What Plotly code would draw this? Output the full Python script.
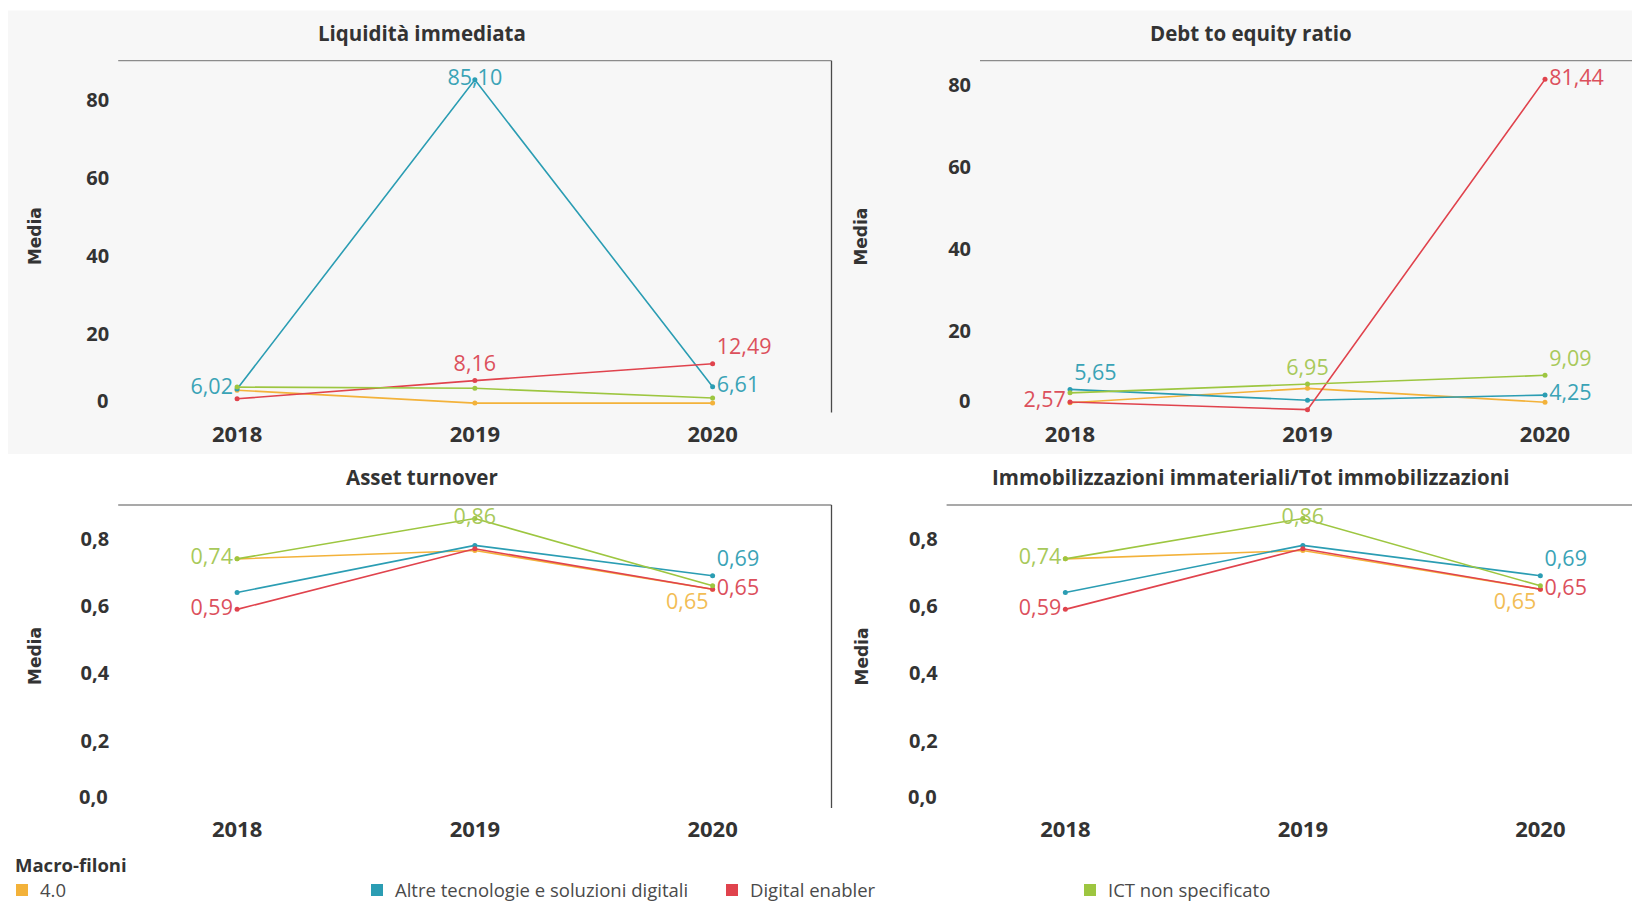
import plotly.graph_objects as go

# The page is shown with the browser's default 8px body margin, so the figure
# is sized and positioned to land on the 1640x905 window exactly.
OFF = 8
FW, FH = 1640 - OFF, 905 - OFF

# ---------------- data ----------------
years = ["2018", "2019", "2020"]
series_names = ["4.0", "Altre tecnologie e soluzioni digitali", "Digital enabler", "ICT non specificato"]
panel_titles = ["Liquidità immediata", "Debt to equity ratio", "Asset turnover",
                "Immobilizzazioni immateriali/Tot immobilizzazioni"]
legend_title = "Macro-filoni"

liq_40 = [5.7, 2.4, 2.4]
liq_altre = [6.02, 85.10, 6.61]
liq_digital = [3.5, 8.16, 12.49]
liq_ict = [6.5, 6.2, 3.7]

dte_40 = [2.4, 5.9, 2.5]
dte_altre = [5.65, 3.0, 4.25]
dte_digital = [2.57, 0.7, 81.44]
dte_ict = [4.8, 6.95, 9.09]

at_40 = [0.74, 0.765, 0.65]
at_altre = [0.64, 0.78, 0.69]
at_digital = [0.59, 0.77, 0.65]
at_ict = [0.74, 0.86, 0.66]

imm_40 = [0.74, 0.765, 0.65]
imm_altre = [0.64, 0.78, 0.69]
imm_digital = [0.59, 0.77, 0.65]
imm_ict = [0.74, 0.86, 0.66]

ticks_big = [20, 40, 60, 80]
ticks_small = [0.2, 0.4, 0.6, 0.8]

# ---------------- style ----------------
FONT = "Open Sans"
line_colors = ["#F3B23A", "#2B9DB3", "#E0434D", "#9DC640"]
text_colors = ["#F2BD55", "#3AA3B6", "#DC505C", "#A8C95A"]
DARK = "#333333"
legend_text_x = [40, 395, 750, 1108]   # left edge of each legend label (px)


def fx(t):
    return (t - OFF) / FW


def fy(t):
    return 1 - (t - OFF) / FH


panels = [
    dict(data=[liq_40, liq_altre, liq_digital, liq_ict], big=True,
         xpx=(118.2, 831.5), ypx=(60.7, 412.5), yr=(0, 90), xr=(-0.5, 2.5), mpx=34.5, vline=True,
         labels={1: {0: "middle left", 1: "middle center", 2: "middle right"},
                 2: {1: "top center", 2: "top right"}}),
    dict(data=[dte_40, dte_altre, dte_digital, dte_ict], big=True,
         xpx=(980, 1640), ypx=(60.7, 412.5), yr=(0, 86),
         xr=(-(1070 - 980) / 237.5, (1640 - 1070) / 237.5), mpx=861, vline=False,
         labels={1: {0: "top right", 2: "middle right"},
                 2: {0: "middle left", 2: "middle right"},
                 3: {1: "top center", 2: "top right"}}),
    dict(data=[at_40, at_altre, at_digital, at_ict], big=False,
         xpx=(118.2, 831.5), ypx=(505, 808), yr=(0, 0.9), xr=(-0.5, 2.5), mpx=34.5, vline=True,
         labels={0: {2: "bottom left"}, 1: {2: "top right"},
                 2: {0: "middle left", 2: "middle right"},
                 3: {0: "middle left", 1: "middle center"}}),
    dict(data=[imm_40, imm_altre, imm_digital, imm_ict], big=False,
         xpx=(946.6, 1640), ypx=(505, 808), yr=(0, 0.9),
         xr=(-0.5, -0.5 + (1640 - 946.6) / 237.5), mpx=861, vline=False,
         labels={0: {2: "bottom left"}, 1: {2: "top right"},
                 2: {0: "middle left", 2: "middle right"},
                 3: {0: "middle left", 1: "middle center"}}),
]


def fmt(v):
    return f"{v:.2f}".replace(".", ",")


fig = go.Figure()
layout = dict(shapes=[], annotations=[])

# gray band behind the top row
layout["shapes"].append(dict(type="rect", xref="paper", yref="paper", x0=0, x1=1,
                             y0=fy(454), y1=fy(10.5), fillcolor="#F7F7F7",
                             line=dict(width=0), layer="below"))

for i, p in enumerate(panels):
    n = i + 1
    xa = "x" if n == 1 else f"x{n}"
    ya = "y" if n == 1 else f"y{n}"
    for s, vals in enumerate(p["data"]):
        lab = p["labels"].get(s, {})
        txt = [fmt(v) if j in lab else "" for j, v in enumerate(vals)]
        pos = [lab.get(j, "middle center") for j in range(len(vals))]
        fig.add_trace(go.Scatter(
            x=years, y=vals, xaxis=xa, yaxis=ya, mode="lines+markers+text",
            line=dict(color=line_colors[s], width=1.6),
            marker=dict(color=line_colors[s], size=5),
            text=txt, textposition=pos, cliponaxis=False,
            textfont=dict(family=FONT, size=21.5, color=text_colors[s]),
            name=series_names[s], showlegend=False, hoverinfo="x+y+name"))

    x0, x1 = p["xpx"]
    yt, yb = p["ypx"]
    tv = ticks_big if p["big"] else ticks_small
    tt = [str(v) if p["big"] else f"{v:.1f}".replace(".", ",") for v in tv]
    layout["xaxis" if n == 1 else f"xaxis{n}"] = dict(
        domain=[fx(x0), min(1, fx(x1))], anchor=ya, type="category", range=list(p["xr"]),
        showgrid=False, zeroline=False, showline=False, ticks="",
        tickfont=dict(family=FONT, size=22, color=DARK, weight="bold"),
        ticklabelstandoff=6, fixedrange=True, automargin=False)
    layout["yaxis" if n == 1 else f"yaxis{n}"] = dict(
        domain=[fy(yb), fy(yt)], anchor=xa, range=list(p["yr"]),
        tickvals=tv, ticktext=tt, showgrid=False, zeroline=False, showline=False, ticks="",
        tickfont=dict(family=FONT, size=20, color=DARK, weight="bold"),
        ticklabelstandoff=8, fixedrange=True, automargin=False)
    # lowest tick label, lifted like in the original
    layout["annotations"].append(dict(
        xref="paper", yref=ya, x=fx(x0 - 8), y=0, xanchor="right", yanchor="middle",
        yshift=12, text="0" if p["big"] else "0,0", showarrow=False,
        font=dict(family=FONT, size=20, color=DARK, weight="bold")))
    # top separator line
    layout["shapes"].append(dict(type="line", xref=f"{xa} domain", yref=f"{ya} domain",
                                 x0=0, x1=1, y0=1, y1=1, line=dict(color="#8C8C8C", width=1.3)))
    if p["vline"]:
        layout["shapes"].append(dict(type="line", xref=f"{xa} domain", yref=f"{ya} domain",
                                     x0=1, x1=1, y0=0, y1=1, line=dict(color="#4A4A4A", width=1.3)))
    # panel title
    cx = 421.5 if i % 2 == 0 else 1251
    ty = 33.5 if i < 2 else 477
    layout["annotations"].append(dict(
        xref="paper", yref="paper", x=fx(cx), y=fy(ty), xanchor="center", yanchor="middle",
        text=f"<b>{panel_titles[i]}</b>", showarrow=False,
        font=dict(family=FONT, size=20.5, color=DARK)))
    # y axis title
    layout["annotations"].append(dict(
        xref="paper", yref="paper", x=fx(p["mpx"]), y=fy((yt + yb) / 2),
        xanchor="center", yanchor="middle", textangle=-90, text="<b>Media</b>", showarrow=False,
        font=dict(family="DejaVu Sans", size=17, color=DARK)))

# legend (title, colour swatches and labels)
layout["annotations"].append(dict(
    xref="paper", yref="paper", x=fx(12.5), y=fy(864), xanchor="left", yanchor="middle",
    text=f"<b>{legend_title}</b>", showarrow=False,
    font=dict(family=FONT, size=18.5, color=DARK)))
for s, nm in enumerate(series_names):
    lx = legend_text_x[s]
    layout["shapes"].append(dict(type="rect", xref="paper", yref="paper",
                                 x0=fx(lx - 24), x1=fx(lx - 12), y0=fy(896), y1=fy(884),
                                 fillcolor=line_colors[s], line=dict(width=0)))
    layout["annotations"].append(dict(
        xref="paper", yref="paper", x=fx(lx - 2), y=fy(889), xanchor="left", yanchor="middle",
        text=nm, showarrow=False, font=dict(family=FONT, size=18.5, color="#4A4A4A")))

fig.update_layout(
    **layout,
    width=FW, height=FH,
    margin=dict(l=0, r=0, t=0, b=0, autoexpand=False),
    paper_bgcolor="white", plot_bgcolor="rgba(0,0,0,0)",
    font=dict(family=FONT, color=DARK),
    showlegend=False,
)

fig.write_html("out.html")
